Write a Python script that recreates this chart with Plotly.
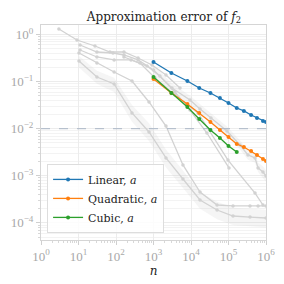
import plotly.graph_objects as go

# ---- data ----
n_main = [1000, 3000, 8000, 16600, 33000, 59000, 100000, 166000, 257000, 400000, 575000, 830000, 1000000]
err_linear = [0.261, 0.152, 0.103, 0.0731, 0.0573, 0.0449, 0.0351, 0.0275, 0.0238, 0.0195, 0.0169, 0.0146, 0.0139]
err_quadratic = [0.1136, 0.0573, 0.0334, 0.0216, 0.0139, 0.00938, 0.00667, 0.00473, 0.00409, 0.00336, 0.00277, 0.00228, 0.00206]
n_cubic = [1000, 3000, 8000, 16600, 33000, 59000, 100000, 166000]
err_cubic = [0.125, 0.0573, 0.0289, 0.0161, 0.00938, 0.00635, 0.00430, 0.00320]

threshold = 0.01

x_tickvals = [1, 10, 100, 1000, 10000, 100000, 1000000]
x_ticktext = ["10<sup>0</sup>", "10<sup>1</sup>", "10<sup>2</sup>", "10<sup>3</sup>",
              "10<sup>4</sup>", "10<sup>5</sup>", "10<sup>6</sup>"]
y_tickvals = [1, 0.1, 0.01, 0.001, 0.0001]
y_ticktext = ["10<sup>0</sup>", "10<sup>−1</sup>", "10<sup>−2</sup>", "10<sup>−3</sup>", "10<sup>−4</sup>"]

# faded comparison curves
gA_n = [3, 9.1, 27.5, 69, 163, 388, 912, 2150, 5100]
gA_e = [1.31, 0.764, 0.570, 0.425, 0.425, 0.317, 0.225, 0.138, 0.0731]
gB_n = [11, 31, 83, 163, 388, 1000, 3100, 9400, 17400, 34000, 91000, 202000, 331000, 510000, 615000, 830000, 1000000]
gB_e = [0.598, 0.425, 0.405, 0.367, 0.288, 0.176, 0.0731, 0.0407, 0.0262, 0.0169, 0.00893, 0.00451, 0.00277, 0.00239, 0.00147, 0.00121, 0.00099]
gC_n = [11, 31, 89, 251, 673, 1480, 3720, 9400, 26600, 103000]
gC_e = [0.469, 0.333, 0.288, 0.288, 0.214, 0.131, 0.0601, 0.0249, 0.0081, 0.00147]
gD_n = [163, 436, 1100, 3720, 15400, 97000, 510000, 830000]
gD_e = [0.333, 0.248, 0.119, 0.0519, 0.0216, 0.00216, 0.000431, 0.00024]
gE_n = [10.3, 31, 89, 267, 759, 2150, 6100, 17400, 49500, 132000, 375000, 615000, 1000000]
gE_e = [0.405, 0.248, 0.160, 0.103, 0.0369, 0.0114, 0.0017, 0.000453, 0.00024, 0.000229, 0.000229, 0.000229, 0.000229]
gF_n = [10.3, 31, 89, 267, 759, 2150, 6100, 17400, 49500, 132000, 375000, 1000000]
gF_e = [0.274, 0.125, 0.0889, 0.0216, 0.00851, 0.00239, 0.000855, 0.000306, 0.000188, 0.00014, 0.000133, 0.000127]
bandF_hi = [0.35, 0.17, 0.12, 0.032, 0.013, 0.0036, 0.0013, 0.00045, 0.00028, 0.00021, 0.0002, 0.00019]
bandF_lo = [0.2, 0.09, 0.06, 0.014, 0.0055, 0.0015, 0.00055, 0.0002, 0.00012, 0.00009, 0.000085, 0.00008]
bandB_n = [1000, 3100, 9400, 17400, 34000, 91000, 202000, 331000, 510000, 615000, 830000, 1000000]
bandB_hi = [0.22, 0.092, 0.05, 0.033, 0.021, 0.0112, 0.0057, 0.0035, 0.003, 0.0019, 0.0016, 0.0013]
bandB_lo = [0.14, 0.058, 0.032, 0.021, 0.0135, 0.0071, 0.0036, 0.0022, 0.0019, 0.0012, 0.0009, 0.00075]

FONT = "DejaVu Serif"
TICKFONT = "Liberation Serif"
GRAY = "#d2d2d2"
BAND = "rgba(200,200,200,0.18)"

x_minor = [m * 10 ** k for k in range(0, 6) for m in range(2, 10)]
y_minor = [m * 10 ** k for k in range(-5, 1) for m in range(2, 10)]

fig = go.Figure()

def band(n, hi, lo):
    fig.add_trace(go.Scatter(x=n, y=hi, mode="lines", line=dict(width=0), showlegend=False, hoverinfo="skip"))
    fig.add_trace(go.Scatter(x=n, y=lo, mode="lines", line=dict(width=0), fill="tonexty",
                             fillcolor=BAND, showlegend=False, hoverinfo="skip"))

band(gF_n, bandF_hi, bandF_lo)
band(bandB_n, bandB_hi, bandB_lo)

for gn, ge in [(gA_n, gA_e), (gB_n, gB_e), (gC_n, gC_e), (gD_n, gD_e), (gE_n, gE_e), (gF_n, gF_e)]:
    fig.add_trace(go.Scatter(x=gn, y=ge, mode="lines+markers", line=dict(color=GRAY, width=1.3),
                             marker=dict(color=GRAY, size=3.5), showlegend=False, hoverinfo="skip"))

fig.add_trace(go.Scatter(x=[1, 1e6], y=[threshold, threshold], mode="lines",
                         line=dict(color="#a9b5c6", width=1, dash="dash"), showlegend=False))

fig.add_trace(go.Scatter(x=n_main, y=err_linear, mode="lines+markers", name="Linear, <i>a</i>",
                         line=dict(color="#1f77b4", width=1.3), marker=dict(color="#1f77b4", size=4)))
fig.add_trace(go.Scatter(x=n_main, y=err_quadratic, mode="lines+markers", name="Quadratic, <i>a</i>",
                         line=dict(color="#ff7f0e", width=1.3), marker=dict(color="#ff7f0e", size=4)))
fig.add_trace(go.Scatter(x=n_cubic, y=err_cubic, mode="lines+markers", name="Cubic, <i>a</i>",
                         line=dict(color="#2ca02c", width=1.3), marker=dict(color="#2ca02c", size=4)))

axis_common = dict(
    type="log", automargin=False,
    showline=True, mirror=True, linecolor="#d5d5d5", linewidth=1,
    gridcolor="#ececec", gridwidth=1, zeroline=False,
    ticks="outside", ticklen=4, tickcolor="#d0d0d0",
    tickfont=dict(family=TICKFONT, size=13, color="#a8a8a8"),
)

fig.update_xaxes(**axis_common, range=[0, 6], tickmode="array", tickvals=x_tickvals, ticktext=x_ticktext,
                 minor=dict(tickmode="array", tickvals=x_minor, ticks="outside", ticklen=2,
                            tickcolor="#d8d8d8", showgrid=False),
                 title=dict(text="<i>n</i>", font=dict(family=FONT, size=12, color="#222"), standoff=2))
fig.update_yaxes(**axis_common, range=[-4.363, 0.2017], tickmode="array", tickvals=y_tickvals, ticktext=y_ticktext,
                 minor=dict(tickmode="array", tickvals=y_minor, ticks="outside", ticklen=2,
                            tickcolor="#d8d8d8", showgrid=True, gridcolor="#f3f3f3"))

fig.update_layout(
    width=276, height=276,
    margin=dict(l=33, r=18, t=17, b=44),
    paper_bgcolor="white", plot_bgcolor="white",
    title=dict(text="Approximation error of <i>f</i><sub>2</sub>", x=0.565, xanchor="center",
               y=0.985, yanchor="top", font=dict(family=FONT, size=12, color="#222")),
    legend=dict(x=0.027, y=0.033, xanchor="left", yanchor="bottom", traceorder="normal",
                bgcolor="rgba(255,255,255,0.85)", bordercolor="#dddddd", borderwidth=1,
                font=dict(family=FONT, size=11, color="#222"), tracegroupgap=0),
    showlegend=True,
)

fig.write_html("out.html")
